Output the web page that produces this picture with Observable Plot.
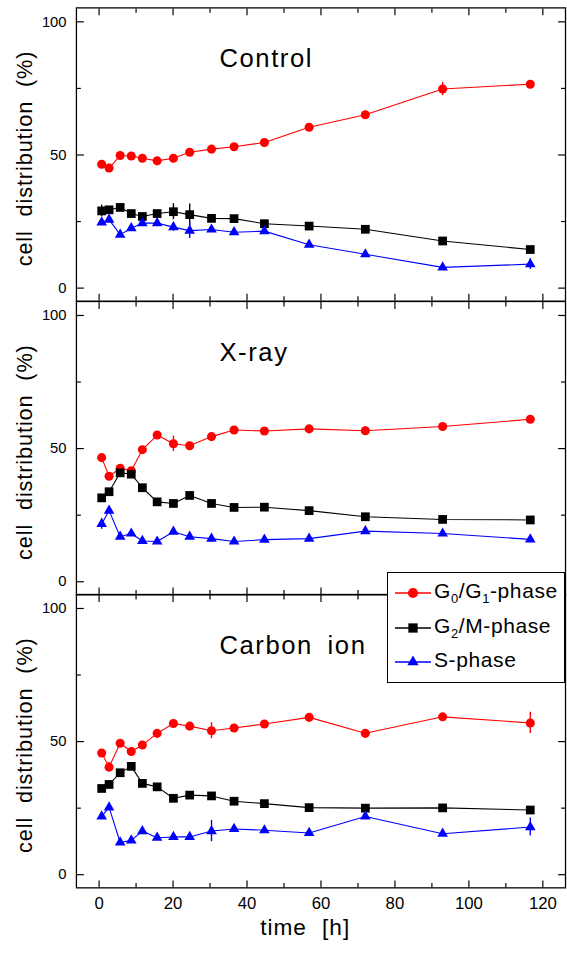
<!DOCTYPE html>
<html>
<head>
<meta charset="utf-8">
<script src="https://cdn.jsdelivr.net/npm/d3@7"></script>
<script src="https://cdn.jsdelivr.net/npm/@observablehq/plot@0.6"></script>
<style>
  html, body { margin: 0; padding: 0; background: white; overflow: hidden; }
  #wrap { position: relative; width: 567px; height: 956px; overflow: hidden; }
  #wrap svg { display: block; overflow: visible; }
  #legend { position: absolute; left: 387px; top: 572px; width: 178px; height: 111px;
            box-sizing: border-box; border: 1.3px solid black; background: white;
            font-family: "Liberation Sans", Arial, sans-serif; font-size: 21px; letter-spacing: 0.6px; }
  .row { position: absolute; left: 0; height: 20px; }
  .row svg { position: absolute; left: 5px; top: 0; }
  .row span { position: absolute; left: 46px; top: -2px; white-space: nowrap; line-height: 20px; }
  sub { font-size: 13px; vertical-align: -5px; line-height: 0; }
</style>
</head>
<body>
<div id="wrap"></div>
<script>
// ---- data ----
const times = [0.7, 2.7, 5.7, 8.7, 11.7, 15.7, 20.1, 24.5, 30.4, 36.5, 44.7, 56.8, 72, 92.9, 116.6];

const ctrlG1  = [46.5, 45.1, 49.8, 49.6, 48.8, 47.8, 48.8, 51.0, 52.2, 53.1, 54.7, 60.4, 65.1, 74.8, 76.6];
const ctrlG2M = [29.0, 29.4, 30.3, 28.0, 26.9, 28.0, 28.7, 27.6, 26.2, 26.1, 24.2, 23.3, 22.1, 17.7, 14.5];
const ctrlS   = [24.7, 25.7, 20.1, 22.5, 24.4, 24.4, 22.9, 21.6, 22.0, 21.0, 21.4, 16.3, 12.7, 7.8, 9.0];
const ctrlG1Err  = [0, 1.5, 0, 0, 0, 0, 0, 0, 0, 0, 0, 0, 0, 2.5, 0];
const ctrlG2MErr = [2.2, 0, 0, 0, 0, 0, 3, 4, 0, 0, 0, 0, 0, 0, 0];
const ctrlSErr   = [0, 0, 0, 0, 0, 0, 1.5, 3, 0, 0, 0, 0, 0, 0, 2];

const xrayG1  = [46.6, 39.6, 42.6, 41.7, 49.6, 55.1, 51.8, 51.1, 54.5, 57.0, 56.6, 57.4, 56.7, 58.3, 61.0];
const xrayG2M = [31.5, 33.8, 40.9, 40.4, 35.3, 30.0, 29.4, 32.4, 29.4, 27.9, 28.0, 26.7, 24.4, 23.4, 23.2];
const xrayS   = [21.7, 26.7, 16.9, 18.1, 15.3, 15.1, 18.8, 16.9, 16.2, 15.1, 15.8, 16.2, 19.0, 18.1, 15.9];
const xrayG1Err  = [0, 0, 0, 0, 0, 0, 2.9, 0, 0, 0, 0, 0, 1.5, 0, 0];
const xrayG2MErr = [0, 0, 0, 0, 0, 0, 0, 0, 0, 0, 0, 0, 0, 0, 0];
const xraySErr   = [2, 0, 0, 0, 0, 0, 0, 0, 0, 0, 0, 0, 0, 0, 0];

const carbG1  = [45.7, 40.4, 49.4, 46.3, 48.7, 53.1, 56.8, 55.8, 54.1, 55.1, 56.6, 59.1, 53.1, 59.3, 57.0];
const carbG2M = [32.4, 33.9, 38.3, 40.7, 34.3, 33.0, 28.7, 29.9, 29.6, 27.6, 26.7, 25.2, 25.0, 25.1, 24.3];
const carbS   = [21.9, 25.3, 12.1, 12.9, 16.4, 13.9, 14.2, 14.2, 16.4, 17.2, 16.7, 15.7, 21.9, 15.4, 17.9];
const carbG1Err  = [0, 1.8, 0, 0, 0, 0, 0, 0, 3, 0, 0, 0, 0, 0, 4];
const carbG2MErr = [0, 1.5, 0, 0, 0, 0, 0, 0, 0, 0, 0, 0, 0, 0, 0];
const carbSErr   = [0, 0, 0, 0, 0, 0, 0, 0, 4, 0, 0, 0, 0, 0, 3.4];

const panelTitles = ["Control", "X-ray", "Carbon ion"];
const phaseNames = ["G0/G1-phase", "G2/M-phase", "S-phase"];
const xTicks = [0, 20, 40, 60, 80, 100, 120];
const xMinor = [10, 30, 50, 70, 90, 110];
const yTicks = [0, 50, 100];
const yMinor = [25, 75];
const yLabel = "cell distribution (%)";
const xLabel = "time [h]";

// ---- styles ----
const phaseStyle = [
  {color: "#ff0000", symbol: "circle", r: 4.6},
  {color: "#000000", symbol: "square", r: 5.0},
  {color: "#0000ff", symbol: "triangle", r: 4.0}
];

const panels = [
  {title: panelTitles[0], series: [ctrlG1, ctrlG2M, ctrlS], errs: [ctrlG1Err, ctrlG2MErr, ctrlSErr]},
  {title: panelTitles[1], series: [xrayG1, xrayG2M, xrayS], errs: [xrayG1Err, xrayG2MErr, xraySErr]},
  {title: panelTitles[2], series: [carbG1, carbG2M, carbS], errs: [carbG1Err, carbG2MErr, carbSErr]}
];

const FONT = "'Liberation Sans', Arial, sans-serif";

function makePanel(p, i) {
  const first = i === 0, last = i === panels.length - 1;
  const marginTop = first ? 7.5 : 0;
  const marginBottom = last ? 56 : 0;
  const plotH = 297.5;
  const marks = [];
  p.series.forEach((vals, k) => {
    const st = phaseStyle[k];
    const rows = times.map((t, j) => ({t, v: vals[j], e: p.errs[k][j]}));
    marks.push(Plot.line(rows, {x: "t", y: "v", stroke: st.color, strokeWidth: 1.1}));
    marks.push(Plot.ruleX(rows.filter(d => d.e > 0), {x: "t", y1: d => d.v - d.e, y2: d => d.v + d.e, stroke: st.color, strokeWidth: 1.4}));
  });
  p.series.forEach((vals, k) => {
    const st = phaseStyle[k];
    const rows = times.map((t, j) => ({t, v: vals[j]}));
    marks.push(Plot.dot(rows, {x: "t", y: "v", symbol: st.symbol, r: st.r, fill: st.color, stroke: "none"}));
  });
  const blank = () => "";
  marks.push(
    Plot.axisX({anchor: "bottom", ticks: xTicks, tickSize: 7, dy: -7, tickFormat: blank, label: null, strokeWidth: 1.2}),
    Plot.axisX({anchor: "bottom", ticks: xMinor, tickSize: 4.5, dy: -4.5, tickFormat: blank, label: null, strokeWidth: 1.2}),
    Plot.axisX({anchor: "top", ticks: xTicks, tickSize: 7, dy: 7, tickFormat: blank, label: null, strokeWidth: 1.2}),
    Plot.axisX({anchor: "top", ticks: xMinor, tickSize: 4.5, dy: 4.5, tickFormat: blank, label: null, strokeWidth: 1.2}),
    Plot.axisY({anchor: "left", ticks: yTicks, tickSize: 8, dx: 8, tickFormat: blank, label: null, strokeWidth: 1.2}),
    Plot.axisY({anchor: "left", ticks: yMinor, tickSize: 5, dx: 5, tickFormat: blank, label: null, strokeWidth: 1.2}),
    Plot.axisY({anchor: "right", ticks: yTicks, tickSize: 8, dx: -8, tickFormat: blank, label: null, strokeWidth: 1.2}),
    Plot.axisY({anchor: "right", ticks: yMinor, tickSize: 5, dx: -5, tickFormat: blank, label: null, strokeWidth: 1.2}),
    Plot.axisY({anchor: "left", ticks: yTicks, tickSize: 0, tickPadding: 10, label: null, fontSize: 15}),
    Plot.frame({stroke: "black", strokeWidth: 1.3}),
    Plot.text([p.title], {frameAnchor: "top-left", dx: 145, dy: 52, textAnchor: "start", lineAnchor: "middle", fontSize: 26, fill: "black"}),
    Plot.text([yLabel], {frameAnchor: "left", textAnchor: "middle", rotate: -90, dx: -52, dy: 4, fontSize: 22, fill: "black"})
  );
  if (last) {
    marks.push(
      Plot.axisX({anchor: "bottom", ticks: xTicks, tickSize: 0, tickPadding: 9, label: null, fontSize: 17}),
      Plot.text([xLabel], {frameAnchor: "bottom", dx: -16, dy: 40, lineAnchor: "middle", fontSize: 23, fill: "black"})
    );
  }
  const svg = Plot.plot({
    width: 575,
    height: plotH + marginTop + marginBottom,
    marginLeft: 77,
    marginRight: 2,
    marginTop,
    marginBottom,
    style: {fontFamily: FONT, fontSize: "16px", color: "black", background: "transparent", overflow: "visible"},
    x: {domain: [-6.13, 126.13], axis: null},
    y: {domain: [-4.93, 105.25], axis: null},
    marks
  });
  // letter/word spacing to match the reference's spaced-out lettering
  d3.select(svg).selectAll("text").each(function() {
    const s = this.textContent;
    if (s === yLabel) { this.style.letterSpacing = "0.9px"; this.style.wordSpacing = "7px"; }
    else if (s === p.title) { this.style.letterSpacing = "1.6px"; this.style.wordSpacing = "6px"; }
    else if (s === xLabel) { this.style.letterSpacing = "1px"; this.style.wordSpacing = "8px"; }
  });
  return svg;
}

const wrap = document.getElementById("wrap");
panels.forEach((p, i) => wrap.appendChild(makePanel(p, i)));

// legend
const legend = document.createElement("div");
legend.id = "legend";
const labelsHtml = ["G<sub>0</sub>/G<sub>1</sub>-phase", "G<sub>2</sub>/M-phase", "S-phase"];
const rowTops = [10, 45, 79];
phaseStyle.forEach((st, k) => {
  const row = document.createElement("div");
  row.className = "row";
  row.style.top = rowTops[k] + "px";
  row.title = phaseNames[k];
  const type = st.symbol === "circle" ? d3.symbolCircle : st.symbol === "square" ? d3.symbolSquare : d3.symbolTriangle;
  const sym = d3.symbol(type, Math.PI * st.r * st.r * (st.symbol === "circle" ? 1.2 : 1.1))();
  row.innerHTML = `<svg width="40" height="20" style="overflow:visible"><line x1="2" x2="38" y1="10" y2="10" stroke="${st.color}" stroke-width="1.3"/><path d="${sym}" transform="translate(20,10)" fill="${st.color}"/></svg><span>${labelsHtml[k]}</span>`;
  legend.appendChild(row);
});
wrap.appendChild(legend);
</script>
</body>
</html>
